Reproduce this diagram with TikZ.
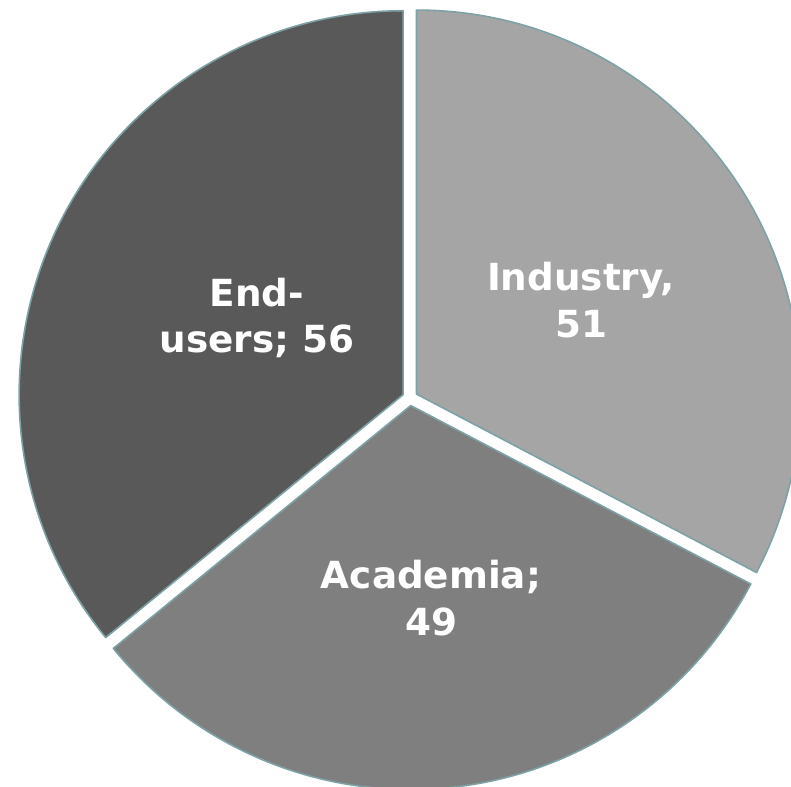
\documentclass[tikz,border=0pt]{standalone}
\usepackage{fontspec}
\setmainfont{DejaVu Sans}
\usepackage{tikz}

\definecolor{endgray}{RGB}{89,89,89}
\definecolor{indgray}{RGB}{165,165,165}
\definecolor{acagray}{RGB}{127,127,127}
\definecolor{rimcol}{RGB}{125,162,165}

\begin{document}
\begin{tikzpicture}[x=0.75pt, y=0.75pt,
  slice/.style = {draw = rimcol, line width = 1.2pt, line join = round},
  lbl/.style = {text = white, align = center, font = \bfseries\fontsize{28}{35}\selectfont}]
\useasboundingbox (0,0) rectangle (791,786);
\clip (0,0) rectangle (791,786);

\coordinate (c) at (410,388);

\filldraw[slice, fill = indgray] (c) ++(31.15:7.6) -- ++(90:384) arc[start angle = 90, end angle = -27.69, radius = 384] -- cycle;
\filldraw[slice, fill = acagray] (c) ++(-84.23:7.6) -- ++(-27.69:384) arc[start angle = -27.69, end angle = -140.77, radius = 384] -- cycle;
\filldraw[slice, fill = endgray] (c) ++(154.62:7.6) -- ++(219.23:384) arc[start angle = 219.23, end angle = 90, radius = 384] -- cycle;

\node[lbl] (ind) at (581,486) {Industry,\\51};
\node[lbl] (aca) at (431,188) {Academia;\\49};
\node[lbl] (end) at (257,468) {End-\\users; 56};
\end{tikzpicture}
\end{document}
